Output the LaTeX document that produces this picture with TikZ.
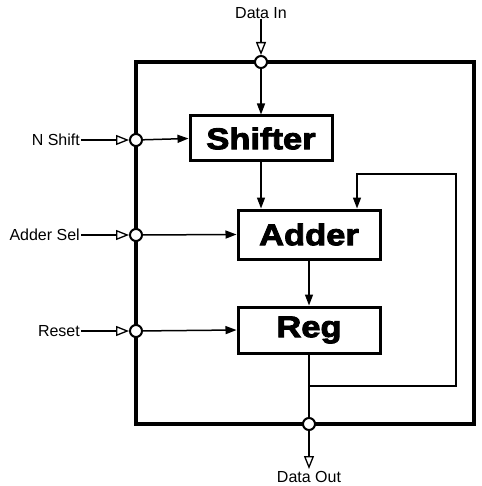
\documentclass[tikz,border=0pt]{standalone}
\usepackage{fontspec}
\setmainfont{Liberation Sans}
\newfontfamily\heavy{Liberation Sans}[FakeStretch=1.15, BoldFeatures={FakeBold=3}]
\usetikzlibrary{arrows.meta}
\begin{document}
\begin{tikzpicture}[x=1pt,y=-1pt,
  blk/.style={draw, line width=3pt, fill=white, minimum width=142pt, inner sep=0pt, font=\heavy\bfseries\fontsize{30}{32}\selectfont},
  port/.style={circle, draw, line width=2pt, fill=white, minimum size=12pt, inner sep=0pt},
  lab/.style={inner sep=1pt, font=\fontsize{16}{18}\selectfont},
  arr/.style={line width=1.5pt, -{Triangle[length=11pt, width=8pt]}},
  inarr/.style={line width=1.5pt, -{Triangle[open, length=13pt, width=10pt, line width=1.3pt]}},
  wire/.style={line width=1.5pt}]
\useasboundingbox (0,0) rectangle (481,486);
% outer frame
\node[draw, line width=4.5pt, minimum width=338pt, minimum height=362pt, inner sep=0pt] (frame) at (305,243) {};
% blocks
\node[blk, minimum height=45pt] (shifter) at (261,138.5) {Shifter};
\node[blk, minimum height=49pt] (adder) at (309,234.5) {Adder};
\node[blk, minimum height=46pt] (reg) at (309,330) {Reg};
% ports
\node[port] (pDin) at (261,62) {};
\node[port] (pN) at (136,140) {};
\node[port] (pA) at (136,235) {};
\node[port] (pR) at (136,331) {};
\node[port] (pOut) at (309,424) {};
% labels
\node[lab] (lDin) at (261,13) {Data In};
\node[lab, anchor=east] (lN) at (81,140) {N Shift};
\node[lab, anchor=east] (lA) at (81,235) {Adder Sel};
\node[lab, anchor=east] (lR) at (81,331) {Reset};
\node[lab] (lOut) at (309,477) {Data Out};
% input arrows
\draw[inarr] (261,19) -- (pDin);
\draw[inarr] (lN.east) -- (pN);
\draw[inarr] (lA.east) -- (pA);
\draw[inarr] (lR.east) -- (pR);
\draw[inarr] (pOut) -- (309,469);
% internal arrows
\draw[arr] (pDin) -- (shifter.north);
\draw[arr] (pN) -- (shifter.west);
\draw[arr] (shifter.south) -- (shifter.south |- adder.north);
\draw[arr] (pA) -- (adder.west);
\draw[arr] (adder.south) -- (reg.north);
\draw[arr] (pR) -- (reg.west);
\draw[wire] (reg.south) -- (pOut);
% feedback
\coordinate (fb) at (309,386);
\coordinate (fbR) at (456,386);
\coordinate (fbT) at (456,174);
\coordinate (fbL) at (357,174);
\draw[arr] (fb) -- (fbR) -- (fbT) -- (fbL) -- (fbL |- adder.north);
\end{tikzpicture}
\end{document}
